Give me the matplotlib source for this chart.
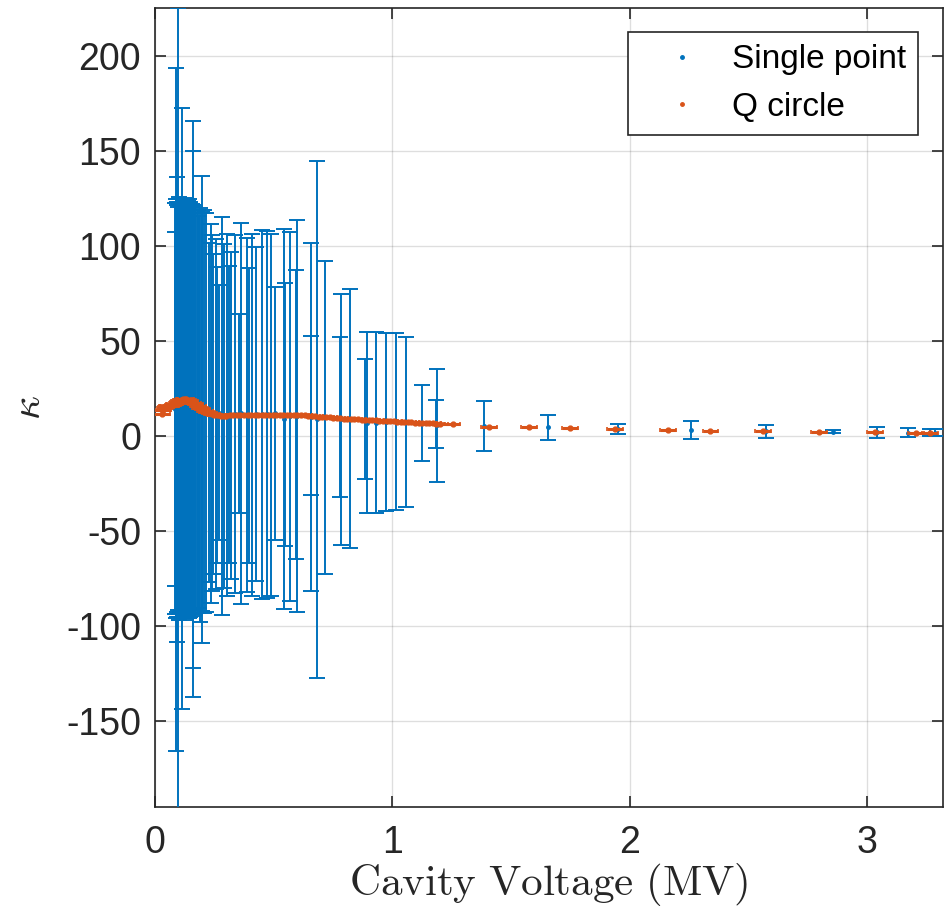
import matplotlib
matplotlib.use("Agg")
import matplotlib.pyplot as plt
from matplotlib.lines import Line2D
import numpy as np

plt.rcParams['font.family'] = ['Liberation Sans', 'DejaVu Sans']
plt.rcParams['mathtext.fontset'] = 'cm'
plt.rcParams['axes.unicode_minus'] = False

# ---- Single point (blue) : x, centre, symmetric error ----
sp_x = [0.084, 0.086, 0.0877, 0.089, 0.091, 0.0925, 0.094, 0.0955, 0.097, 0.099,
        0.101, 0.103, 0.105, 0.107, 0.109, 0.111, 0.113, 0.115, 0.117, 0.119,
        0.121, 0.123, 0.125, 0.127, 0.129, 0.131, 0.133, 0.135, 0.137, 0.139,
        0.141, 0.143, 0.145, 0.148, 0.151, 0.154, 0.157, 0.159, 0.161, 0.164,
        0.167, 0.170, 0.175, 0.180, 0.185, 0.189, 0.196, 0.200, 0.206, 0.215,
        0.227, 0.234, 0.240, 0.246, 0.255, 0.262, 0.270, 0.281, 0.291, 0.305,
        0.313, 0.320, 0.337, 0.355, 0.361, 0.386, 0.395, 0.407, 0.425, 0.450,
        0.470, 0.487, 0.505, 0.543, 0.547, 0.570, 0.592, 0.597, 0.655, 0.657,
        0.681, 0.716, 0.781, 0.782, 0.821, 0.886, 0.891, 0.932, 0.973, 1.013,
        1.057, 1.126, 1.182, 1.186, 1.387, 1.653, 1.951, 2.255, 2.571, 2.856,
        3.042, 3.172, 3.263, 3.285]
sp_y = [14.5, 14.2, 14.1, 14.5, 14.0, 14.6, 14.0, 14.0, 14.3, 14.8,
        14.2, 14.5, 14.7, 14.1, 14.6, 14.4, 14.8, 14.6, 14.2, 14.9,
        14.5, 14.1, 14.7, 14.3, 14.6, 14.0, 14.4, 14.8, 14.2, 14.5,
        14.1, 14.6, 14.3, 14.0, 14.4, 14.2, 13.8, 14.2, 13.8, 13.5,
        13.9, 13.2, 13.5, 13.0, 12.8, 11.0, 14.0, 12.8, 13.0, 12.5,
        12.5, 12.0, 12.0, 11.5, 11.5, 11.0, 12.3, 10.7, 10.5, 11.0,
        11.5, 11.0, 11.6, 11.7, 11.9, 11.0, 11.0, 11.0, 11.5, 11.5,
        11.4, 11.0, 11.9, 8.9, 11.3, 10.5, 11.3, 10.6, 10.8, 10.0,
        8.7, 9.8, 9.9, 8.7, 9.2, 8.9, 7.0, 7.0, 7.5, 7.8,
        7.5, 6.8, 6.5, 5.6, 5.2, 4.5, 3.6, 3.1, 2.5, 2.25,
        1.9, 1.85, 1.85, 1.85]
sp_err = [108, 92.9, 179.5, 110, 109, 107, 122.4, 211, 106, 110,
          108, 111, 107, 109, 110, 106, 108, 157.9, 109, 107,
          110, 108, 106, 111, 109, 107, 110, 108, 106, 109,
          107, 110, 108, 109, 106, 108, 107, 151.6, 135.8, 108,
          105, 107, 104, 106, 103, 109, 122.9, 105, 106, 105,
          89, 99.6, 93.5, 84, 92, 78, 67, 104.7, 90.5, 95,
          78, 86, 94.2, 52.2, 100, 93, 77.5, 95, 87.7, 97,
          96.6, 95, 66.5, 99.7, 68.9, 97, 75.8, 103.2, 41.8, 91.7,
          135.9, 82.2, 42, 65.9, 68.2, 31.6, 47.6, 47.5, 46.9, 46.6,
          44.6, 20.1, 12.6, 29.5, 13.2, 6.5, 2.7, 4.8, 3.4, 0.85,
          2.8, 2.55, 1.85, 1.65]

# ---- Q circle (orange) : x, value, horizontal error ----
qc_x = [0.030, 0.035, 0.040, 0.045, 0.050, 0.055, 0.060, 0.065, 0.070, 0.075,
        0.080, 0.085, 0.090, 0.095, 0.100, 0.105, 0.110, 0.115, 0.120, 0.125,
        0.130, 0.140, 0.150, 0.160, 0.170, 0.180, 0.190, 0.200, 0.210, 0.220,
        0.230, 0.240, 0.250, 0.260, 0.270, 0.280, 0.290, 0.300,
        0.315, 0.330, 0.345, 0.360, 0.375, 0.390, 0.405, 0.420, 0.435, 0.450,
        0.465, 0.480, 0.495, 0.510, 0.525, 0.540, 0.555, 0.570, 0.585, 0.600,
        0.615, 0.630, 0.645, 0.660, 0.675, 0.690, 0.705, 0.720, 0.735, 0.750,
        0.765, 0.780, 0.795, 0.810, 0.825, 0.840, 0.855, 0.870, 0.885, 0.900,
        0.915, 0.930, 0.945, 0.960, 0.975, 0.990, 1.005, 1.020, 1.035, 1.050,
        1.065, 1.080, 1.095, 1.110, 1.125, 1.140, 1.155, 1.170, 1.185, 1.200,
        1.253, 1.406, 1.576, 1.747, 1.937, 2.161, 2.339, 2.561, 2.797, 3.032,
        3.204, 3.263]
qc_y = [11.4, 13.5, 14.5, 15.2, 15.6, 15.8, 15.8, 15.8, 16.0, 16.3,
        16.7, 17.1, 17.5, 17.9, 18.3, 18.6, 18.9, 19.1, 19.3, 19.3,
        19.3, 19.0, 18.4, 17.6, 16.7, 15.8, 14.9, 14.0, 13.2, 12.5,
        11.9, 11.4, 11.1, 10.9, 10.8, 10.7, 10.7, 10.7,
        10.8, 10.8, 10.9, 10.9, 11.0, 11.0, 11.0, 11.1, 11.1, 11.1,
        11.1, 11.2, 11.2, 11.2, 11.2, 11.2, 11.2, 11.1, 11.1, 11.0,
        10.9, 10.8, 10.7, 10.5, 10.4, 10.2, 10.1, 9.9, 9.8, 9.6,
        9.5, 9.3, 9.2, 9.1, 8.9, 8.8, 8.7, 8.6, 8.5, 8.4,
        8.3, 8.2, 8.1, 8.0, 7.9, 7.8, 7.7, 7.6, 7.5, 7.4,
        7.3, 7.2, 7.1, 7.0, 6.9, 6.8, 6.7, 6.6, 6.5, 6.4,
        6.2, 5.0, 4.5, 4.0, 3.5, 3.1, 2.8, 2.6, 2.3, 2.1,
        1.8, 1.8]
qc_xerr = 0.033

yticks = [-150, -100, -50, 0, 50, 100, 150, 200]
xticks = [0, 1, 2, 3]

blue = '#0072BD'
orange = '#D95319'
axc = '#262626'

fig = plt.figure(figsize=(9.51, 9.21), dpi=100)
ax = fig.add_axes([155/951, 1-807/921, (943-155)/951, (807-8)/921])

ax.errorbar(sp_x, sp_y, yerr=sp_err, fmt='.', color=blue, ecolor=blue,
            elinewidth=1.4, capsize=5.8, capthick=1.4, markersize=5, zorder=3)
ax.errorbar(qc_x, qc_y, xerr=qc_xerr, fmt='.', color=orange, ecolor=orange,
            elinewidth=2.2, capsize=1.5, capthick=1.2, markersize=7, zorder=4)

ax.set_xlim(0, 3.318)
ax.set_ylim(-195, 225)
ax.set_xticks(xticks)
ax.set_yticks(yticks)
ax.grid(True, color=axc, alpha=0.15, linewidth=1.0)
ax.set_axisbelow(True)
for s in ax.spines.values():
    s.set_color(axc)
    s.set_linewidth(1.2)
ax.tick_params(direction='in', length=8, width=1.2, colors=axc,
               labelsize=27, top=True, right=True, labelcolor='#262626')
ax.tick_params(axis='y', pad=10)
ax.tick_params(axis='x', pad=13)

ax.set_xlabel(r'$\mathrm{Cavity\ Voltage\ (MV)}$', fontsize=31, color='#262626', labelpad=0)
ax.set_ylabel(r'$\kappa$', fontsize=30, color='#262626')
ax.yaxis.set_label_coords(-0.135, 0.5)

handles = [Line2D([], [], linestyle='none', marker='.', markersize=5, color=blue),
           Line2D([], [], linestyle='none', marker='.', markersize=5, color=orange)]
leg = ax.legend(handles, ['Single point', 'Q circle'],
                loc='upper right', bbox_to_anchor=((918-155)/788, 1-(32-8)/799),
                borderaxespad=0, fontsize=24, frameon=True, fancybox=False,
                edgecolor=axc, framealpha=1, handlelength=2.5, handletextpad=0.25,
                borderpad=0.37, labelspacing=0.5)
leg.get_frame().set_linewidth(1.2)

fig.savefig('out.png', dpi=100)
